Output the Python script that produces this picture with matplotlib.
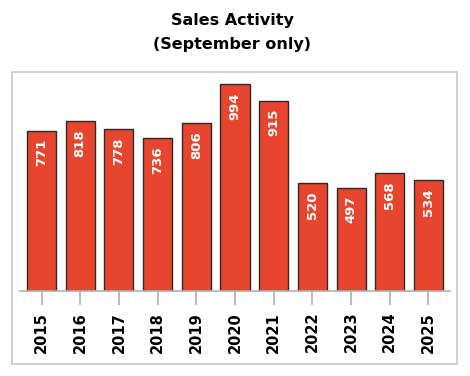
import numpy as np
import matplotlib.pyplot as plt
from matplotlib.patches import Rectangle

years = ['2015', '2016', '2017', '2018', '2019', '2020', '2021', '2022', '2023', '2024', '2025']
sales = [771, 818, 778, 736, 806, 994, 915, 520, 497, 568, 534]

barColor = '#E8452F'
edgeColor = '#2a2a2a'
axisGray = '#b0b0b0'

fig = plt.figure(figsize=(4.70, 3.76), dpi=100)

# outer chart frame
fig.patches.append(Rectangle((12/470, 1-364/376), 445/470, 292/376, transform=fig.transFigure,
                             fill=False, edgecolor='#c8c8c8', linewidth=1.2))

ax = fig.add_axes([20/470, 1-291/376, 430/470, 219/376])
x = np.arange(len(years))
ax.bar(x, sales, width=0.75, color=barColor, edgecolor=edgeColor, linewidth=1.0)

for xi, v in zip(x, sales):
    ax.text(xi, v - 40, str(v), rotation=90, ha='center', va='top',
            color='white', fontsize=9.5, fontweight='bold')

ax.set_xlim(-0.556, 10.556)
ax.set_ylim(0, 1053)
for s in ['top', 'right', 'left']:
    ax.spines[s].set_visible(False)
ax.spines['bottom'].set_color(axisGray)
ax.spines['bottom'].set_linewidth(1.2)
ax.set_yticks([])
ax.set_xticks(x)
ax.set_xticklabels(years, rotation=90, fontsize=10.5, fontweight='bold')
ax.tick_params(axis='x', length=10, color=axisGray, width=1.2, pad=5)

fig.text(0.494, 1-21/376, 'Sales Activity', ha='center', va='center', fontsize=11.5, fontweight='bold')
fig.text(0.494, 1-45/376, '(September only)', ha='center', va='center', fontsize=11.5, fontweight='bold')

plt.savefig('out.png', dpi=100)
